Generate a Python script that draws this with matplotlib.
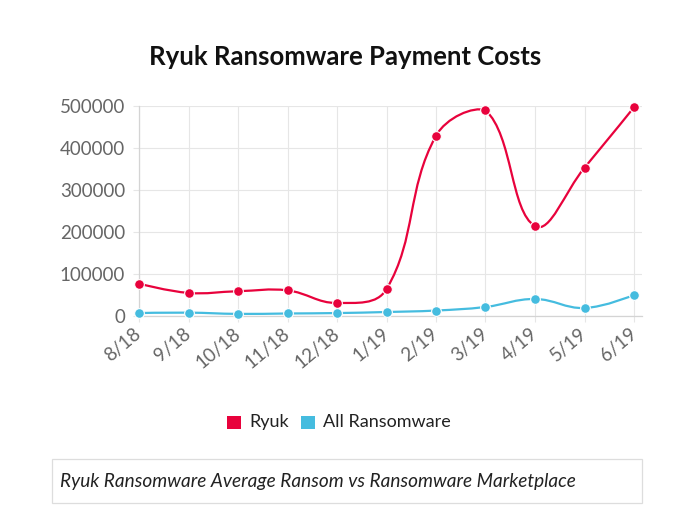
import numpy as np
import matplotlib.pyplot as plt
from matplotlib.path import Path
from matplotlib.patches import PathPatch, Rectangle

# values
months = ['8/18', '9/18', '10/18', '11/18', '12/18', '1/19',
          '2/19', '3/19', '4/19', '5/19', '6/19']
ryuk = [77000, 55000, 59000, 61000, 31000, 64000,
        429000, 490000, 214000, 353000, 497000]
all_ransomware = [7000, 8000, 5000, 6000, 7000, 9500,
                  13000, 21500, 40500, 19000, 50000]
y_ticks = [0, 100000, 200000, 300000, 400000, 500000]

RED = '#e8023c'
BLUE = '#45bcdf'
GRID = '#e6e6e6'

W, H = 674, 517
FONT = 'Lato'
plt.rcParams['font.family'] = [FONT, 'DejaVu Sans']


def px(x, y):
    # pixel position (top-left origin) -> figure fraction
    return x / W, 1 - y / H


def spline_path(xs, ys, sx, sy, box, tension=0.4):
    # chart.js style bezier curve through the points (distances in pixel units),
    # control points kept inside the chart area like chart.js does
    p = np.column_stack([np.asarray(xs, float) * sx, np.asarray(ys, float) * sy])
    n = len(p)
    c_prev = p.copy()
    c_next = p.copy()
    for i in range(1, n - 1):
        d01 = np.hypot(*(p[i] - p[i - 1]))
        d12 = np.hypot(*(p[i + 1] - p[i]))
        s01 = d01 / (d01 + d12)
        s12 = d12 / (d01 + d12)
        diff = p[i + 1] - p[i - 1]
        c_prev[i] = p[i] - tension * s01 * diff
        c_next[i] = p[i] + tension * s12 * diff
    lo = np.array([box[0] * sx, box[2] * sy])
    hi = np.array([box[1] * sx, box[3] * sy])
    c_prev = np.clip(c_prev, lo, hi)
    c_next = np.clip(c_next, lo, hi)
    verts = [p[0]]
    codes = [Path.MOVETO]
    for i in range(n - 1):
        verts += [c_next[i], c_prev[i + 1], p[i + 1]]
        codes += [Path.CURVE4] * 3
    verts = np.array(verts) / [sx, sy]
    return Path(verts, codes)


fig = plt.figure(figsize=(W / 100, H / 100), dpi=100)
left, right, top, bottom = 139, 642, 106, 316
ax = fig.add_axes([left / W, 1 - bottom / H, (right - left) / W, (bottom - top) / H])

x = np.arange(len(months))
xmax = 10 + (right - 634) / 49.5
ax.set_xlim(0, xmax)
ax.set_ylim(0, 500000)

sx = 49.5
sy = (bottom - top) / 500000.0
box = (0, xmax, 0, 500000)
for vals, col, z in [(all_ransomware, BLUE, 3), (ryuk, RED, 4)]:
    ax.add_patch(PathPatch(spline_path(x, vals, sx, sy, box), fill=False,
                           edgecolor=col, lw=1.6, zorder=z, clip_on=False))
    ax.plot(x, vals, 'o', color=col, ms=7, mec='white', mew=0.8,
            zorder=z + 1, clip_on=False)

ax.set_xticks(x)
ax.set_xticklabels(months, rotation=40, ha='right', va='center',
                   rotation_mode='anchor', fontsize=13.5)
ax.set_yticks(y_ticks)
ax.set_yticklabels([str(v) for v in y_ticks], fontsize=13.5)
ax.grid(True, color=GRID, lw=0.8)
ax.set_axisbelow(True)
for s in ['top', 'right']:
    ax.spines[s].set_visible(False)
for s in ['left', 'bottom']:
    ax.spines[s].set_color('#d4d4d4')
    ax.spines[s].set_linewidth(0.9)
ax.tick_params(axis='both', colors=GRID, length=4, width=0.8,
               labelcolor='#666666')
ax.tick_params(axis='y', pad=6)
ax.tick_params(axis='x', pad=7)

fig.text(*px(345, 57), 'Ryuk Ransomware Payment Costs', ha='center', va='center',
         fontsize=18.5, fontweight='bold', color='#111111')

# legend
for (x0, label, col) in [(227, 'Ryuk', RED), (301, 'All Ransomware', BLUE)]:
    fx, fy = px(x0, 429)
    fig.patches.append(Rectangle((fx, fy), 14 / W, 13 / H, transform=fig.transFigure,
                                 facecolor=col, edgecolor='none'))
    fig.text(*px(x0 + 22, 422), label, ha='left', va='center',
             fontsize=13, color='#222222')

# caption box
bx, by = px(52, 503)
fig.patches.append(Rectangle((bx, by), (642 - 52) / W, (503 - 459) / H,
                             transform=fig.transFigure, facecolor='white',
                             edgecolor='#dddddd', lw=0.9))
fig.text(*px(60, 482), 'Ryuk Ransomware Average Ransom vs Ransomware Marketplace',
         ha='left', va='center', fontsize=13.7, style='italic', color='#222222')

fig.savefig('out.png', dpi=100)
